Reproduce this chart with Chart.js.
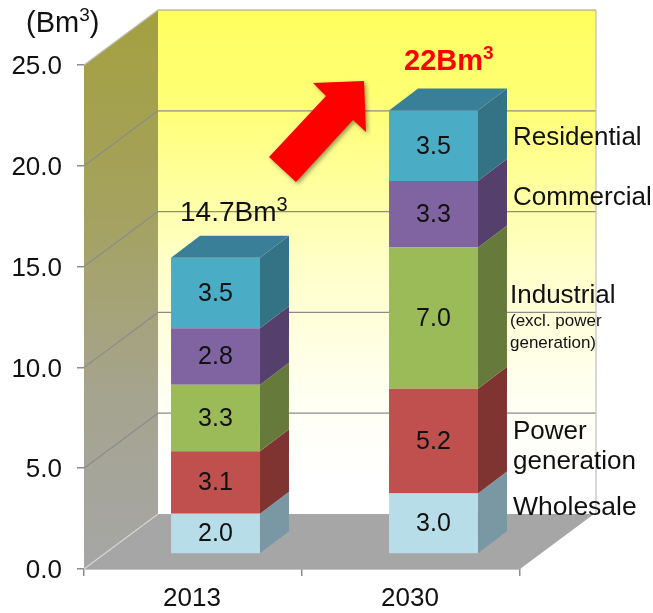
<!DOCTYPE html>
<html>
<head>
<meta charset="utf-8">
<style>
  html, body { margin: 0; padding: 0; background: #fff; }
  canvas { display: block; }
</style>
<script src="https://cdn.jsdelivr.net/npm/chart.js@4"></script>
</head>
<body>
<canvas id="myChart" width="653" height="613"></canvas>
<script>
const years = ['2013', '2030'];
const wholesale = [2.0, 3.0];
const powerGen = [3.1, 5.2];
const industrial = [3.3, 7.0];
const commercial = [2.8, 3.3];
const residential = [3.5, 3.5];
const yTicks = [0, 5, 10, 15, 20, 25];

const FONT = '"Liberation Sans", Arial, sans-serif';

// depth of the fake 3d box
const wallDX = 74, wallDY = -55;
const barDX = 29, barDY = -22;
// bars stand on the floor, not on the front axis
const barShiftX = 22.5, barShiftY = -15;

function poly(ctx, pts, fill) {
  ctx.beginPath();
  ctx.moveTo(pts[0][0], pts[0][1]);
  for (let i = 1; i < pts.length; i++) ctx.lineTo(pts[i][0], pts[i][1]);
  ctx.closePath();
  ctx.fillStyle = fill;
  ctx.fill();
}

function line(ctx, x1, y1, x2, y2, color) {
  ctx.beginPath();
  ctx.moveTo(x1, y1);
  ctx.lineTo(x2, y2);
  ctx.strokeStyle = color;
  ctx.lineWidth = 1.2;
  ctx.stroke();
}

function label(ctx, s, x, y, font, color, align) {
  ctx.font = font;
  ctx.fillStyle = color || '#111';
  ctx.textAlign = align || 'left';
  ctx.textBaseline = 'middle';
  ctx.fillText(s, x, y);
}

// text with a raised small 3, returns where it ended
function supLabel(ctx, s, x, y, font, supFont, color) {
  label(ctx, s, x, y, font, color);
  const end = x + ctx.measureText(s).width;
  label(ctx, '3', end, y - 8, supFont, color);
  return end + ctx.measureText('3').width;
}

const box3d = {
  id: 'box3d',
  beforeDatasetsDraw(chart) {
    const ctx = chart.ctx, a = chart.chartArea, y = chart.scales.y;
    const l = a.left, r = a.right, t = a.top, b = a.bottom;
    const backR = r + wallDX + 2;

    ctx.save();
    // back wall
    let g = ctx.createLinearGradient(0, t + wallDY, 0, b + wallDY);
    g.addColorStop(0, '#FFFF5E');
    g.addColorStop(0.2, '#FFFF78');
    g.addColorStop(0.5, '#FFFFC8');
    g.addColorStop(0.75, '#FFFFF0');
    g.addColorStop(0.92, '#FFFFFF');
    poly(ctx, [[l + wallDX, t + wallDY], [backR, t + wallDY], [backR, b + wallDY], [l + wallDX, b + wallDY]], g);

    // left wall
    g = ctx.createLinearGradient(0, t + wallDY, 0, b);
    g.addColorStop(0, '#A3A040');
    g.addColorStop(0.35, '#A5A25E');
    g.addColorStop(0.7, '#A5A490');
    g.addColorStop(1, '#A6A6A6');
    poly(ctx, [[l, t], [l + wallDX, t + wallDY], [l + wallDX, b + wallDY], [l, b]], g);

    // floor
    poly(ctx, [[l, b], [l + wallDX, b + wallDY], [r + wallDX, b + wallDY], [r, b]], '#A6A6A6');
    line(ctx, l, b, l + wallDX, b + wallDY, '#D4D4D4');

    // grid on both walls
    yTicks.forEach(v => {
      if (v === 0) return;
      const py = y.getPixelForValue(v);
      line(ctx, l, py, l + wallDX, py + wallDY, v === 25 ? '#BDBDBD' : '#8C8C8C');
      line(ctx, l + wallDX, py + wallDY, backR, py + wallDY, v === 25 ? '#9A9A9A' : '#8C8C8C');
    });
    line(ctx, backR, t + wallDY, backR, b + wallDY, '#BFBFBF');
    ctx.restore();

    ctx.save();
    ctx.translate(barShiftX, barShiftY);
  },
  afterDatasetsDraw(chart) {
    const ctx = chart.ctx;
    chart.data.datasets.forEach((ds, i) => {
      chart.getDatasetMeta(i).data.forEach((bar, j) => {
        const x1 = bar.x - bar.width / 2, x2 = bar.x + bar.width / 2;
        poly(ctx, [[x2, bar.base], [x2 + barDX, bar.base + barDY], [x2 + barDX, bar.y + barDY], [x2, bar.y]], ds.sideColor);
        if (i === chart.data.datasets.length - 1) {
          poly(ctx, [[x1, bar.y], [x1 + barDX, bar.y + barDY], [x2 + barDX, bar.y + barDY], [x2, bar.y]], ds.topColor);
        }
        label(ctx, ds.data[j].toFixed(1), bar.x, (bar.y + bar.base) / 2 + 1, '25px ' + FONT, '#111', 'center');
      });
    });
    ctx.restore();

    ctx.save();
    // big red arrow
    ctx.shadowColor = 'rgba(0,0,0,0.4)';
    ctx.shadowBlur = 4;
    ctx.shadowOffsetX = 2;
    ctx.shadowOffsetY = 2;
    poly(ctx, [[269, 157], [326, 96], [313, 83], [364, 81], [366, 132], [353, 120], [296, 182]], '#FF0000');
    ctx.restore();

    ctx.save();
    const end = supLabel(ctx, '(Bm', 26, 24, '29px ' + FONT, '19px ' + FONT);
    label(ctx, ')', end, 24, '29px ' + FONT);
    supLabel(ctx, '14.7Bm', 180, 213, '28px ' + FONT, '20px ' + FONT);
    supLabel(ctx, '22Bm', 404, 62, 'bold 29px ' + FONT, 'bold 19px ' + FONT, '#FF0000');
    label(ctx, 'Residential', 513, 138, '26px ' + FONT);
    label(ctx, 'Commercial', 513, 198, '26px ' + FONT);
    label(ctx, 'Industrial', 510, 296, '26px ' + FONT);
    label(ctx, '(excl. power', 510, 321, '17px ' + FONT);
    label(ctx, 'generation)', 510, 343, '17px ' + FONT);
    label(ctx, 'Power', 513, 432, '26px ' + FONT);
    label(ctx, 'generation', 513, 462, '26px ' + FONT);
    label(ctx, 'Wholesale', 513, 508, '26.5px ' + FONT);
    ctx.restore();
  }
};

function makeSet(name, values, color, side, top) {
  return {
    label: name,
    data: values,
    backgroundColor: color,
    sideColor: side,
    topColor: top,
    borderWidth: 0,
    clip: false,
    categoryPercentage: 1,
    barPercentage: 0.408
  };
}

var canvas = document.getElementById('myChart').getContext('2d');
var myChart = new Chart(canvas, {
  type: 'bar',
  data: {
    labels: years,
    datasets: [
      makeSet('Wholesale', wholesale, '#B7DEE8', '#7A98A3', '#7A98A3'),
      makeSet('Power generation', powerGen, '#C0504D', '#7F3432', '#7F3432'),
      makeSet('Industrial', industrial, '#9BBB59', '#667A3B', '#667A3B'),
      makeSet('Commercial', commercial, '#8064A2', '#553F6C', '#553F6C'),
      makeSet('Residential', residential, '#4BACC6', '#347286', '#3A7F98')
    ]
  },
  options: {
    responsive: false,
    animation: false,
    layout: { padding: { top: 65, right: 133, left: 0, bottom: 0 } },
    plugins: { legend: { display: false }, tooltip: { enabled: false } },
    scales: {
      x: {
        stacked: true,
        afterFit(s) { s.height = 44; },
        border: { display: true, color: '#8C8C8C', width: 1.5 },
        grid: { drawOnChartArea: false, drawTicks: true, tickLength: 7, color: '#8C8C8C', lineWidth: 1.5 },
        ticks: { color: '#111', font: { family: FONT, size: 26 }, padding: 7, maxRotation: 0, labelOffset: -1 }
      },
      y: {
        stacked: true,
        min: 0,
        max: 25,
        afterFit(s) { s.width = 84; },
        afterBuildTicks(s) { s.ticks = yTicks.map(v => ({ value: v })); },
        border: { display: false },
        grid: { drawOnChartArea: false, drawTicks: true, tickLength: 7, color: '#8C8C8C', lineWidth: 1.5 },
        ticks: {
          color: '#111',
          font: { family: FONT, size: 26 },
          padding: 15,
          labelOffset: 2,
          callback: v => v.toFixed(1)
        }
      }
    }
  },
  plugins: [box3d]
});
</script>
</body>
</html>
